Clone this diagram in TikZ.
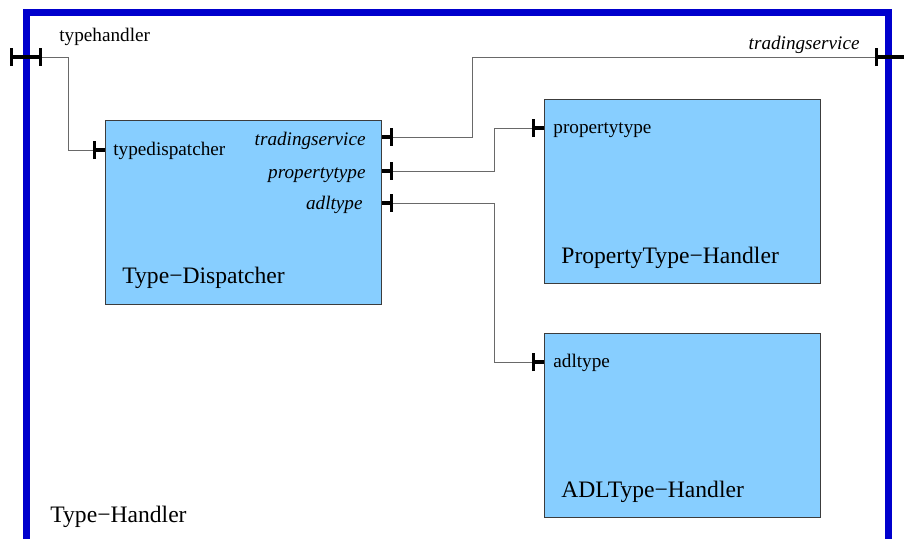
\documentclass[tikz,border=0pt]{standalone}
\usepackage{fontspec}
\setmainfont{Liberation Serif}
\usepackage{xcolor}
\usetikzlibrary{positioning,arrows.meta,calc}
\definecolor{cframe}{RGB}{0,0,205}
\definecolor{cbox}{RGB}{135,206,255}
\definecolor{cwire}{RGB}{105,105,105}
\definecolor{cedge}{RGB}{60,60,60}

\begin{document}
\begin{tikzpicture}[
  x=0.5pt,y=-0.5pt,
  % one blue frame for the enclosing component, light blue boxes for the parts
  frame/.style={draw=cframe,line width=3.2pt},
  comp/.style={draw=cedge,line width=0.5pt,fill=cbox,minimum width=138pt,minimum height=92pt,inner sep=0pt},
  lbl/.style={font=\fontsize{9.6}{11}\selectfont,inner sep=0pt},
  ilbl/.style={lbl,font=\fontsize{9.6}{11}\selectfont\itshape},
  ttl/.style={font=\fontsize{11.8}{13}\selectfont,inner sep=0pt,anchor=west},
  wire/.style={cwire,line width=0.5pt},
  stub/.style={black,line width=1.6pt},
  pin/.style={stub,{Bar[width=9pt]}-},
  pinpin/.style={stub,{Bar[width=9pt]}-{Bar[width=9pt]}},
]
\useasboundingbox (0,0) rectangle (904,538);
\clip (0,0) rectangle (904,538);
\fill[white] (0,0) rectangle (904,538);

% =========== the enclosing Type-Handler ====================================
\draw[frame] (26.5,12.5) rectangle (888.5,580);
\node[ttl] (thname) at (50,517) {Type−Handler};

% =========== the three parts ===============================================
\node[comp] (disp) at (243,212) {};
\node[comp] (prop) at (682,191) {};
\node[comp] (adl)  at (682,425) {};
\node[ttl] (dispname) at (122,278) {Type−Dispatcher};
\node[ttl] (propname) at (561,258) {PropertyType−Handler};
\node[ttl] (adlname)  at (561,492) {ADLType−Handler};

% =========== ports =========================================================
\coordinate (th-out) at (10,57);
\coordinate (th-in)  at (42,57);
\coordinate (ts-in)  at (875,57);
\coordinate (ts-out) at (906,57);
\coordinate (td-p)   at (93,150);
\coordinate (ts-p)   at (393,137);
\coordinate (pt-p)   at (393,171);
\coordinate (ad-p)   at (393,203);
\coordinate (ph-p)   at (532,128);
\coordinate (ah-p)   at (532,362);

\draw[pinpin] (th-out) -- (th-in);
\draw[pin] (ts-in) -- (ts-out);
\draw[pin] (td-p) -- (disp.west |- td-p);
\draw[pin] (ts-p) -- (disp.east |- ts-p);
\draw[pin] (pt-p) -- (disp.east |- pt-p);
\draw[pin] (ad-p) -- (disp.east |- ad-p);
\draw[pin] (ph-p) -- (prop.west |- ph-p);
\draw[pin] (ah-p) -- (adl.west |- ah-p);

% port names
\node[lbl,anchor=west]  (thlab) at (59,37) {typehandler};
\node[ilbl,anchor=east] (tslab) at (860,45) {tradingservice};
\node[lbl,anchor=west]  (tdlab) at (113,151) {typedispatcher};
\node[ilbl,anchor=east] (dtslab) at (366,141) {tradingservice};
\node[ilbl,anchor=east] (dptlab) at (366,175) {propertytype};
\node[ilbl,anchor=east] (dadlab) at (363,205) {adltype};
\node[lbl,anchor=west]  (phlab) at (553,130) {propertytype};
\node[lbl,anchor=west]  (ahlab) at (553,363) {adltype};

% =========== wires =========================================================
\draw[wire] (th-in) -- ++(26,0) |- (td-p);
\draw[wire] (ts-p) -- ++(79,0) |- (ts-in);
\draw[wire] (pt-p) -- ++(101,0) |- (ph-p);
\draw[wire] (ad-p) -- ++(101,0) |- (ah-p);

\end{tikzpicture}
\end{document}
